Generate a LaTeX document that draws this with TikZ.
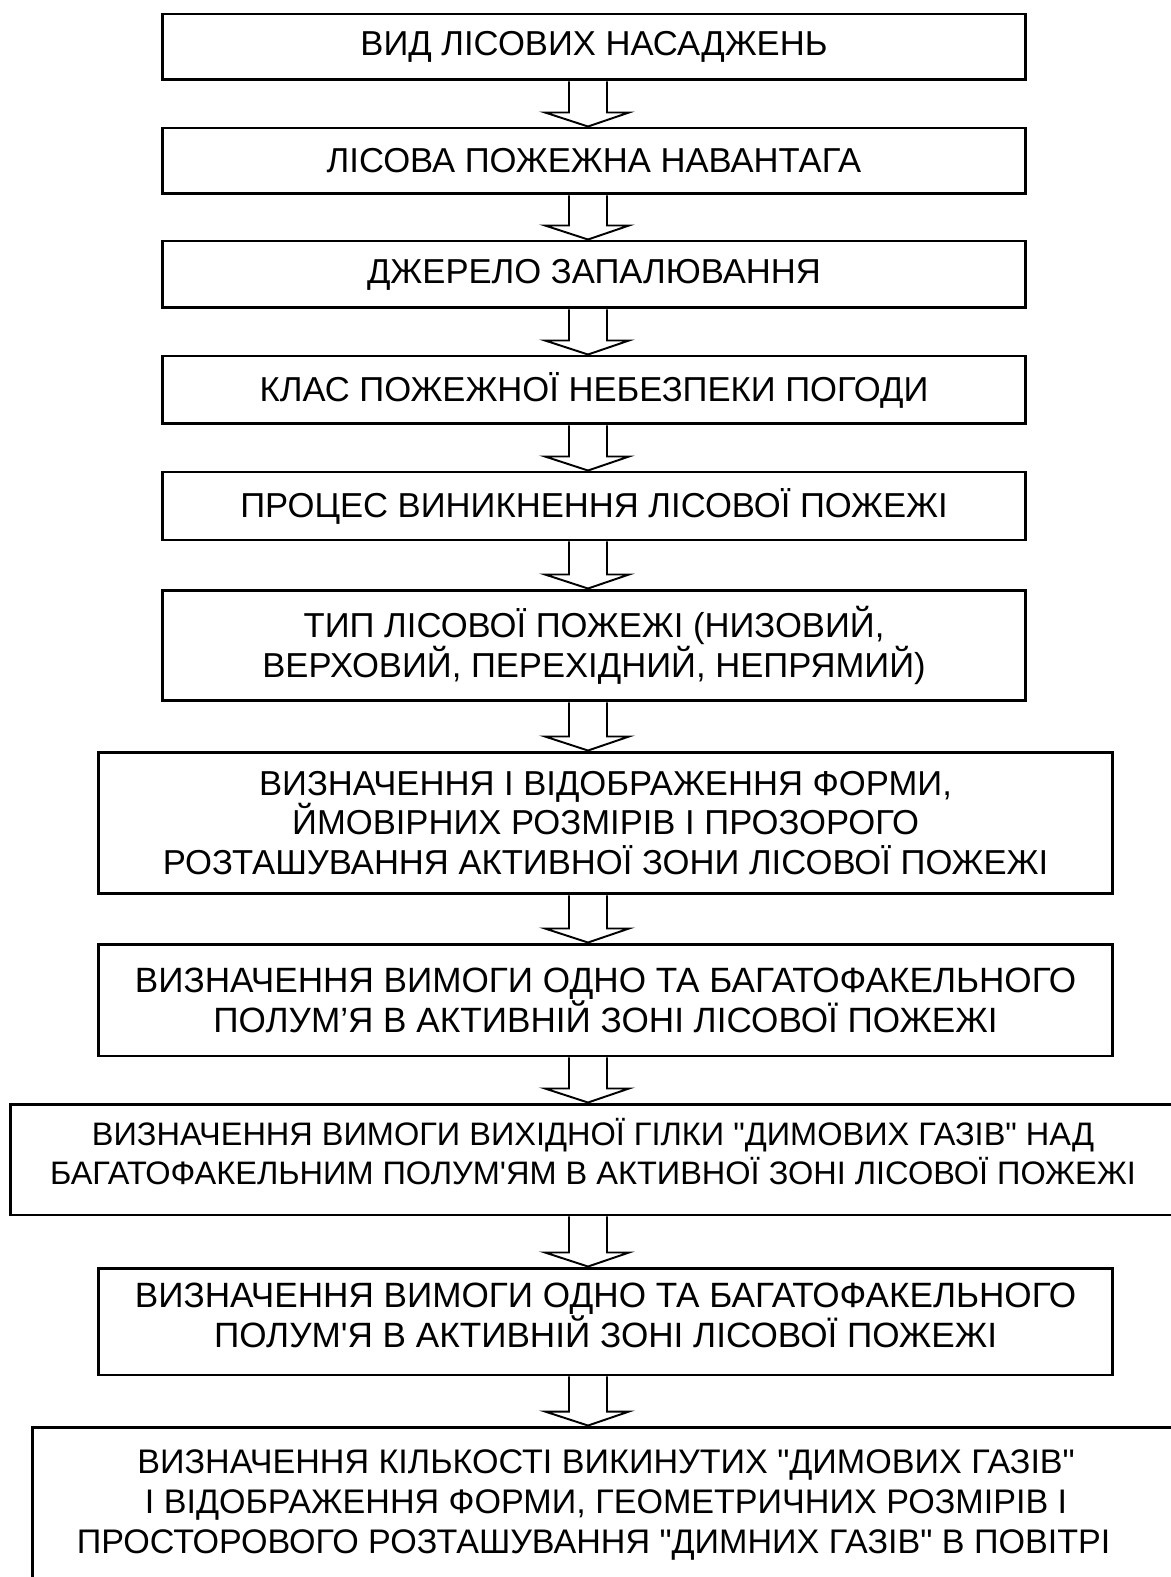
\documentclass[tikz,border=0pt]{standalone}
\usepackage{fontspec}
\newfontfamily\boxfont{Liberation Sans}[Ligatures=ResetAll]
\usetikzlibrary{calc}

\tikzset{
  flowbox/.style={draw=black, line width=1.7pt, rectangle, inner sep=0pt, align=center,
    font=\boxfont\fontsize{19.7}{22.5}\selectfont},
  boxtext/.style={inner sep=0pt, align=center, font=\boxfont\fontsize{19.7}{22.5}\selectfont},
  arrowline/.style={draw=black, line width=1.1pt, fill=white, line join=miter},
}

% block arrow from box #1 down to box #2
\newcommand{\flowarrow}[2]{%
  \draw[arrowline] ($(#1.south -| axis)+(-19,0)$) -- ($(#2.north -| axis)+(-19,-14)$)
    -- ($(#2.north -| axis)+(-43,-14)$) -- (#2.north -| axis) -- ($(#2.north -| axis)+(41,-14)$)
    -- ($(#2.north -| axis)+(19,-14)$) -- ($(#1.south -| axis)+(19,0)$);}

\begin{document}
\begin{tikzpicture}[x=0.02cm, y=-0.02cm]
\useasboundingbox[fill=white] (0,0) rectangle (1170,1577);
\coordinate (axis) at (588,0);

\node[flowbox, minimum width=17.28cm, minimum height=1.32cm] (vid) at (594,47) {ВИД ЛІСОВИХ НАСАДЖЕНЬ};
\node[flowbox, minimum width=17.28cm, minimum height=1.32cm] (navant) at (594,161) {ЛІСОВА ПОЖЕЖНА НАВАНТАГА};
\node[flowbox, minimum width=17.28cm, minimum height=1.34cm] (dzherelo) at (594,274.5) {ДЖЕРЕЛО ЗАПАЛЮВАННЯ};
\node[flowbox, minimum width=17.28cm, minimum height=1.36cm] (klas) at (594,390) {КЛАС ПОЖЕЖНОЇ НЕБЕЗПЕКИ ПОГОДИ};
\node[flowbox, minimum width=17.28cm, minimum height=1.36cm] (proces) at (594,506) {ПРОЦЕС ВИНИКНЕННЯ ЛІСОВОЇ ПОЖЕЖІ};
\node[flowbox, minimum width=17.28cm, minimum height=2.22cm] (typ) at (594,645.5) {ТИП ЛІСОВОЇ ПОЖЕЖІ (НИЗОВИЙ,\\ВЕРХОВИЙ, ПЕРЕХІДНИЙ, НЕПРЯМИЙ)};
\node[flowbox, minimum width=20.3cm, minimum height=2.84cm] (forma) at (605.5,823) {ВИЗНАЧЕННЯ І ВІДОБРАЖЕННЯ ФОРМИ,\\ЙМОВІРНИХ РОЗМІРІВ І ПРОЗОРОГО\\РОЗТАШУВАННЯ АКТИВНОЇ ЗОНИ ЛІСОВОЇ ПОЖЕЖІ};
\node[flowbox, minimum width=20.3cm, minimum height=2.24cm, font=\boxfont\fontsize{20}{22.8}\selectfont] (polum) at (605.5,1000) {ВИЗНАЧЕННЯ ВИМОГИ ОДНО ТА БАГАТОФАКЕЛЬНОГО\\ПОЛУМ’Я В АКТИВНІЙ ЗОНІ ЛІСОВОЇ ПОЖЕЖІ};

% boxes whose text sits above the middle
\node[flowbox, minimum width=23.4cm, minimum height=2.22cm] (gilka) at (595,1159.5) {};
\node[boxtext, font=\boxfont\fontsize{18.5}{21.8}\selectfont] (gilkatext) at ($(gilka.center)+(-2,-8)$) {ВИЗНАЧЕННЯ ВИМОГИ ВИХІДНОЇ ГІЛКИ "ДИМОВИХ ГАЗІВ" НАД\\БАГАТОФАКЕЛЬНИМ ПОЛУМ'ЯМ В АКТИВНОЇ ЗОНІ ЛІСОВОЇ ПОЖЕЖІ};
\node[flowbox, minimum width=20.3cm, minimum height=2.14cm] (polumb) at (605.5,1321.5) {};
\node[boxtext, font=\boxfont\fontsize{20}{22.8}\selectfont] (polumbtext) at ($(polumb.center)+(0,-6)$) {ВИЗНАЧЕННЯ ВИМОГИ ОДНО ТА БАГАТОФАКЕЛЬНОГО\\ПОЛУМ'Я В АКТИВНІЙ ЗОНІ ЛІСОВОЇ ПОЖЕЖІ};
\node[flowbox, minimum width=22.96cm, minimum height=3.12cm] (dym) at (606,1505) {};
\node[boxtext, font=\boxfont\fontsize{19.4}{22.8}\selectfont] (dymtext) at (dym.center) {ВИЗНАЧЕННЯ КІЛЬКОСТІ ВИКИНУТИХ "ДИМОВИХ ГАЗІВ"\\І ВІДОБРАЖЕННЯ ФОРМИ, ГЕОМЕТРИЧНИХ РОЗМІРІВ І\\ПРОСТОРОВОГО РОЗТАШУВАННЯ "ДИМНИХ ГАЗІВ" В ПОВІТРІ\hspace*{0.5cm}};

\foreach \a/\b in {vid/navant, navant/dzherelo, dzherelo/klas, klas/proces, proces/typ,
  typ/forma, forma/polum, polum/gilka, gilka/polumb, polumb/dym}
  \flowarrow{\a}{\b};

\end{tikzpicture}
\end{document}
